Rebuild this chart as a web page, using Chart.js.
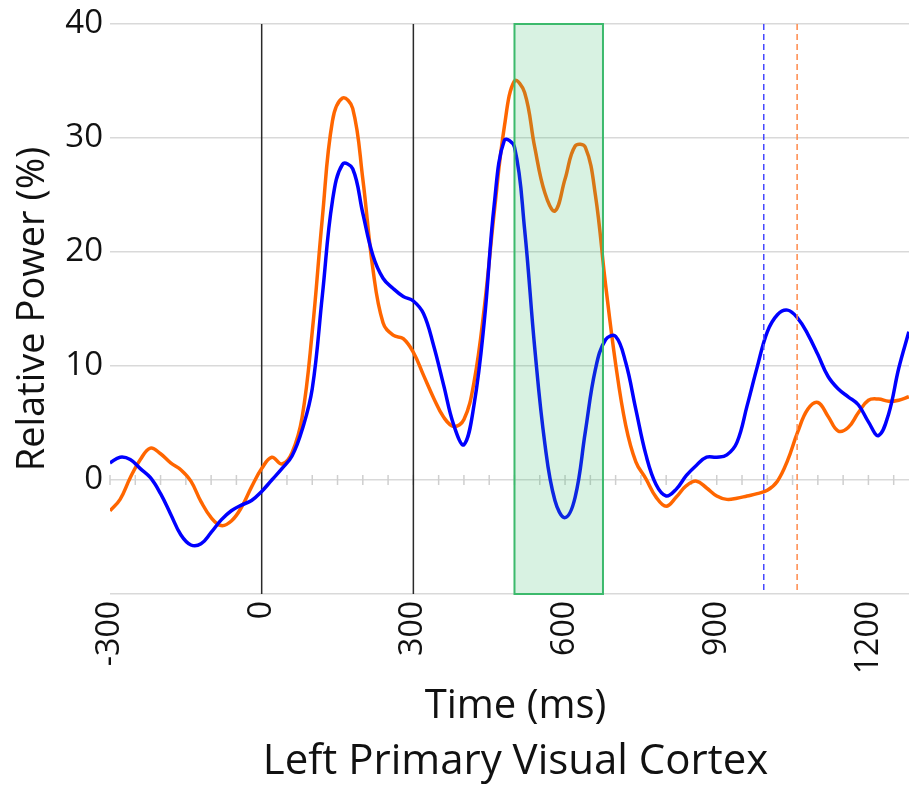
<!DOCTYPE html>
<html>
<head>
<meta charset="utf-8">
<script src="https://cdn.jsdelivr.net/npm/chart.js@4.4.1/dist/chart.umd.min.js"></script>
<style>
  html, body { margin: 0; padding: 0; background: #ffffff; overflow: hidden; }
  #clip { width: 909px; height: 787px; overflow: hidden; position: relative; }
  #wrap { width: 921px; height: 787px; position: relative; }
</style>
</head>
<body>
<div id="clip"><div id="wrap"><canvas id="c"></canvas></div></div>
<script>
// ---- data ----
const times = [-300,-280,-260,-240,-220,-200,-180,-160,-140,-120,-100,-80,-60,-40,-20,0,
  20,40,60,80,100,120,140,160,180,200,220,240,260,280,300,320,340,360,380,400,
  420,440,460,480,500,520,540,560,580,600,620,640,660,680,700,720,740,760,780,800,
  820,840,860,880,900,920,940,960,980,1000,1020,1040,1060,1080,1100,1120,1140,1160,1180,1200,
  1220,1240,1260,1280];

const blueSeries = [1.5,2.0,1.8,1.0,0.2,-1.2,-3.0,-4.8,-5.7,-5.6,-4.6,-3.5,-2.7,-2.2,-1.8,-1.0,
  0.0,1.0,2.1,4.4,8.0,16.2,24.5,27.7,27.3,23.4,19.7,17.7,16.8,16.1,15.7,14.6,11.8,8.3,4.8,3.1,
  6.6,13.8,24.2,29.8,29.2,22.0,11.6,3.2,-1.8,-3.3,-1.5,4.2,9.7,12.3,12.6,10.3,6.2,2.2,-0.4,-1.4,
  -0.8,0.4,1.3,2.0,2.0,2.2,3.3,6.5,9.9,13.0,14.5,14.9,14.2,12.8,11.0,9.1,8.0,7.3,6.6,5.1,
  3.9,5.8,9.8,13.0];

const orangeSeries = [-2.7,-1.7,0.2,1.8,2.8,2.3,1.5,0.9,-0.1,-1.9,-3.3,-4.0,-3.6,-2.4,-0.6,1.0,
  2.0,1.4,2.4,5.5,13.0,23.0,31.5,33.5,32.6,26.4,18.5,13.8,12.7,12.4,11.2,9.2,7.2,5.5,4.7,5.3,
  8.6,15.0,23.5,31.0,35.0,34.0,29.2,25.2,23.6,26.4,29.3,29.2,25.0,17.2,10.2,4.8,1.6,0.1,-1.5,-2.3,
  -1.5,-0.5,-0.1,-0.7,-1.4,-1.7,-1.6,-1.4,-1.2,-0.9,-0.1,1.7,4.2,6.2,6.8,5.6,4.3,4.6,5.9,7.0,
  7.1,6.9,7.0,7.3];

const xTickValues = [-300, 0, 300, 600, 900, 1200];
const yTickValues = [-10, 0, 10, 20, 30, 40];
const eventTimes = [0, 300];           // solid black markers
const windowRange = [500, 675];        // shaded analysis window
const blueOnset = 993;                 // dashed blue marker
const orangeOnset = 1059;              // dashed orange marker
const minorTickStep = 50;              // small ticks on the zero line

const FONT = "'Open Sans', 'Noto Sans', sans-serif";

const overlayPlugin = {
  id: 'overlay',
  beforeDatasetsDraw(chart) {
    const {ctx, chartArea: a, scales: {x, y}} = chart;
    ctx.save();
    const y0 = y.getPixelForValue(0);
    ctx.strokeStyle = '#cfcfcf';
    ctx.lineWidth = 1.5;
    for (let t = x.min; t <= x.max; t += minorTickStep) {
      const px = x.getPixelForValue(t);
      ctx.beginPath();
      ctx.moveTo(px, y0 - 5);
      ctx.lineTo(px, y0 + 5);
      ctx.stroke();
    }
    ctx.strokeStyle = '#2a2a2a';
    ctx.lineWidth = 1.5;
    eventTimes.forEach(t => {
      const px = x.getPixelForValue(t);
      ctx.beginPath();
      ctx.moveTo(px, a.top);
      ctx.lineTo(px, a.bottom);
      ctx.stroke();
    });
    ctx.restore();
  },
  afterDatasetsDraw(chart) {
    const {ctx, chartArea: a, scales: {x, y}} = chart;
    ctx.save();
    const x1 = x.getPixelForValue(windowRange[0]);
    const x2 = x.getPixelForValue(windowRange[1]);
    ctx.fillStyle = 'rgba(60,190,110,0.2)';
    ctx.fillRect(x1, a.top, x2 - x1, a.bottom - a.top);
    ctx.strokeStyle = '#3cba6c';
    ctx.lineWidth = 2;
    ctx.strokeRect(x1, a.top, x2 - x1, a.bottom - a.top);
    ctx.setLineDash([6, 4]);
    ctx.lineWidth = 1.5;
    [[blueOnset, '#4848ff'], [orangeOnset, '#ff8a4a']].forEach(([t, c]) => {
      const px = x.getPixelForValue(t);
      ctx.strokeStyle = c;
      ctx.beginPath();
      ctx.moveTo(px, a.top);
      ctx.lineTo(px, a.bottom);
      ctx.stroke();
    });
    ctx.restore();
  }
};

new Chart(document.getElementById('c'), {
  type: 'line',
  data: {
    labels: times,
    datasets: [
      {
        label: 'Condition A',
        data: times.map((t, i) => ({x: t, y: blueSeries[i]})),
        borderColor: '#0000ff',
        borderWidth: 3.5,
        pointRadius: 0,
        tension: 0.4,
        fill: false
      },
      {
        label: 'Condition B',
        data: times.map((t, i) => ({x: t, y: orangeSeries[i]})),
        borderColor: '#ff6600',
        borderWidth: 3.5,
        pointRadius: 0,
        tension: 0.4,
        fill: false
      }
    ]
  },
  options: {
    responsive: true,
    maintainAspectRatio: false,
    animation: false,
    layout: { padding: { left: 0, right: 0, top: 24, bottom: 0 } },
    plugins: {
      legend: { display: false },
      tooltip: { enabled: false },
      title: {
        display: true,
        position: 'bottom',
        fullSize: false,
        text: 'Left Primary Visual Cortex',
        color: '#111111',
        font: { family: FONT, size: 42, weight: 'normal' },
        padding: { top: 6, bottom: 0 }
      }
    },
    scales: {
      x: {
        type: 'linear',
        min: -300,
        max: 1304,
        afterBuildTicks: s => { s.ticks = xTickValues.map(v => ({value: v})); },
        afterFit: s => { s.height = 787 - 56.4 - 594; s.paddingLeft = 0; s.paddingRight = 0; },
        grid: { display: false, drawTicks: false },
        border: { display: false },
        ticks: {
          includeBounds: false,
          minRotation: 90,
          maxRotation: 90,
          padding: 7,
          color: '#111111',
          font: { family: FONT, size: 32 },
          callback: v => String(v)
        },
        title: {
          display: true,
          text: 'Time (ms)',
          color: '#111111',
          font: { family: FONT, size: 40 },
          padding: { top: 0, bottom: 0 }
        }
      },
      y: {
        min: -10,
        max: 40,
        afterBuildTicks: s => { s.ticks = yTickValues.map(v => ({value: v})); },
        afterFit: s => { s.width = 110; s.paddingTop = 0; s.paddingBottom = 0; },
        grid: { color: '#d9d9d9', lineWidth: 1.5, drawTicks: false },
        border: { display: false },
        ticks: {
          padding: 7,
          color: '#111111',
          font: { family: FONT, size: 33 },
          callback: v => (v === -10 ? '' : String(v))
        },
        title: {
          display: true,
          text: 'Relative Power (%)',
          color: '#111111',
          font: { family: FONT, size: 38 },
          padding: { top: 10, bottom: 0 }
        }
      }
    }
  },
  plugins: [overlayPlugin]
});
</script>
</body>
</html>
